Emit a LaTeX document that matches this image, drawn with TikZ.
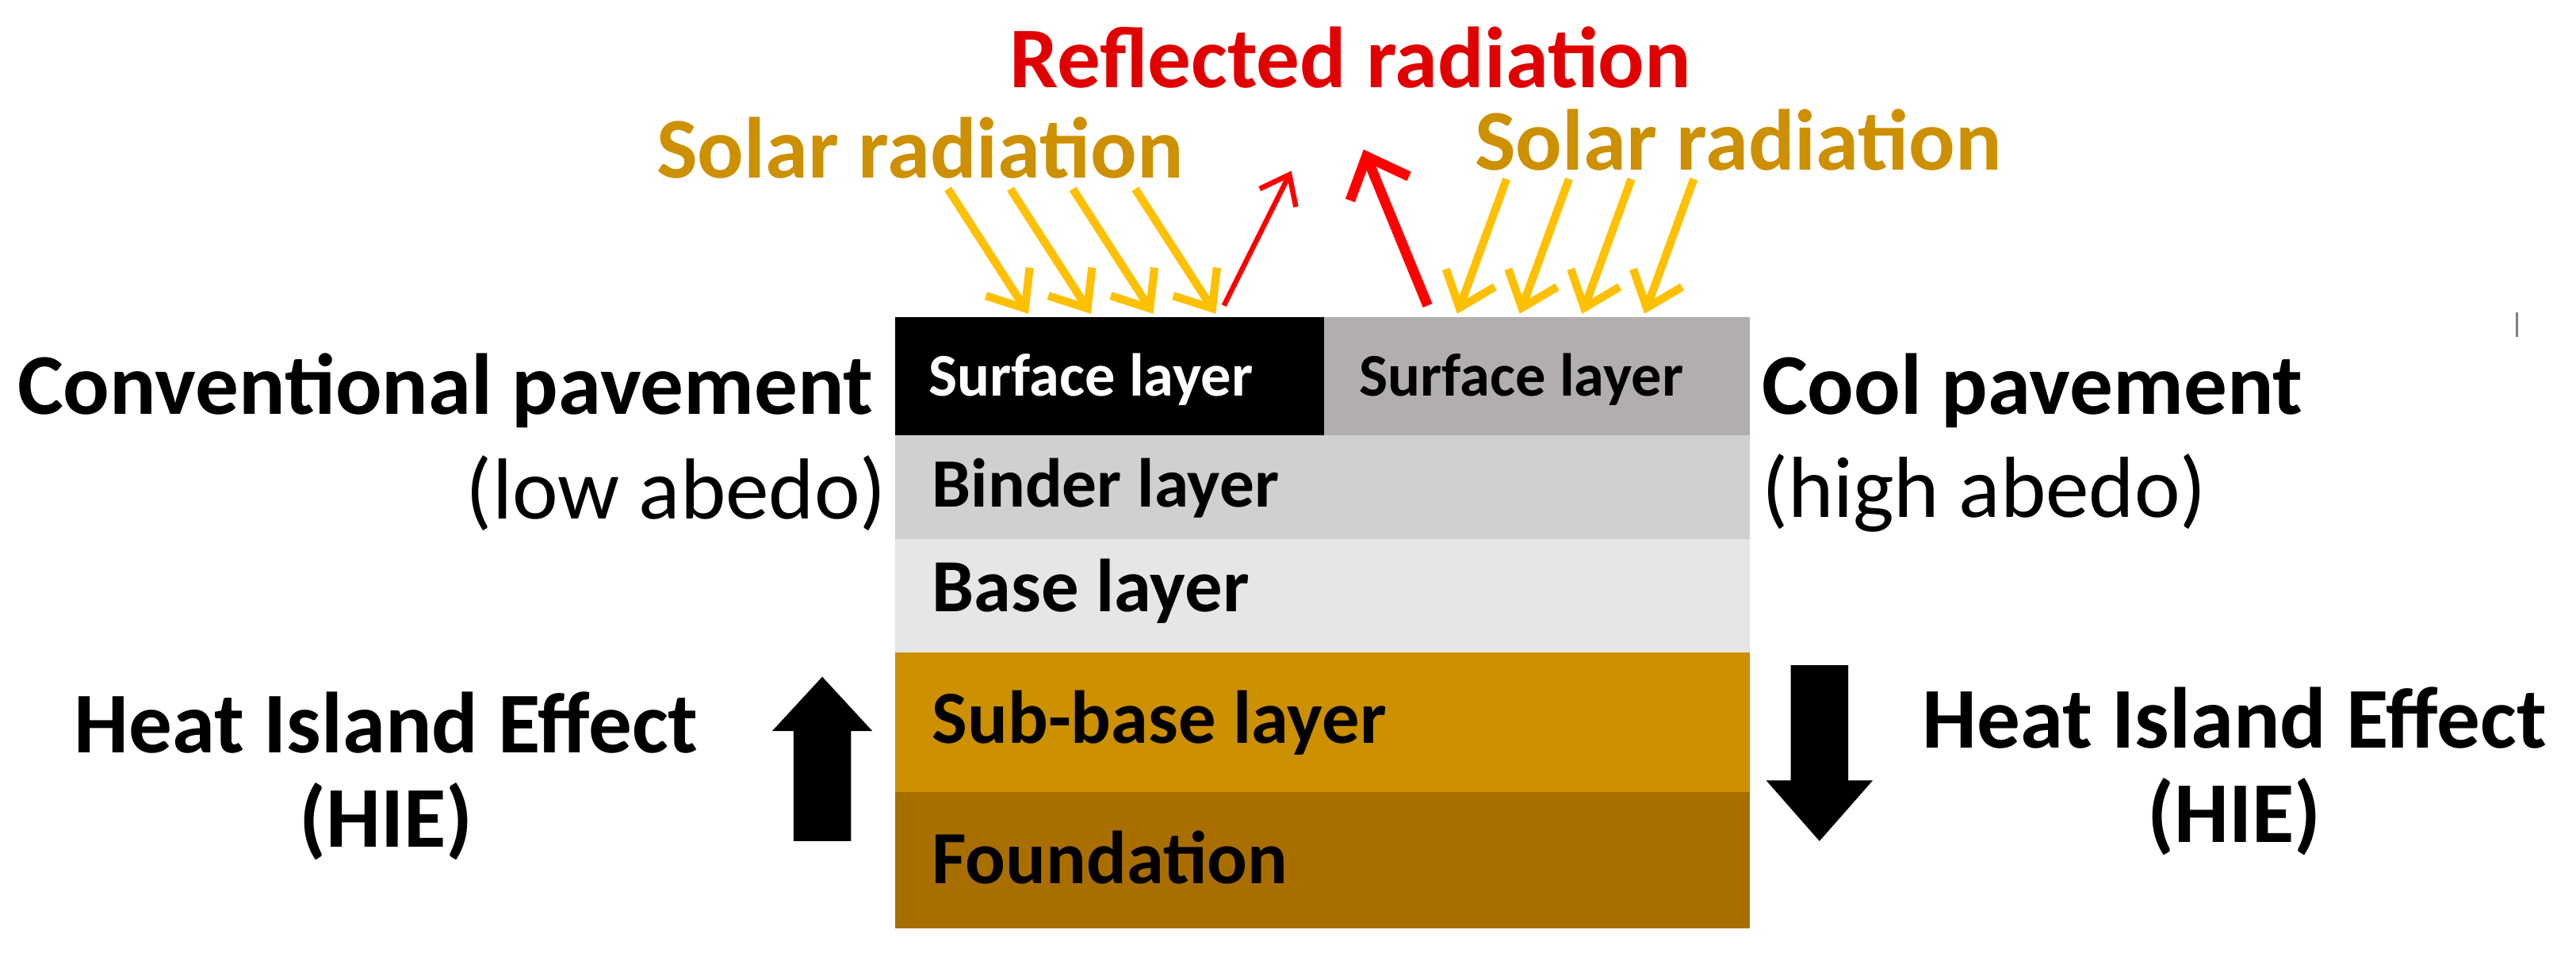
\documentclass[tikz,border=0pt]{standalone}
\usepackage{fontspec}
\setmainfont{Carlito}
\usetikzlibrary{arrows.meta}
\definecolor{gold}{HTML}{CC9000}
\definecolor{found}{HTML}{A86E00}
\definecolor{sunyel}{HTML}{FFC000}
\definecolor{redR}{HTML}{E00000}
\begin{document}
\begin{tikzpicture}[x=0.02cm,y=-0.02cm,
  big/.style={font=\fontsize{30}{36}\selectfont\bfseries, inner sep=0},
  reg/.style={font=\fontsize{30}{36}\selectfont, inner sep=0},
  lay/.style={font=\fontsize{26}{30}\selectfont\bfseries, inner sep=0, anchor=west},
  sm/.style={font=\fontsize{21}{25}\selectfont\bfseries, inner sep=0, anchor=west},
  sun/.style={draw=sunyel, line width=2.8pt, -{Straight Barb[length=11pt,width=18pt,line width=2.8pt]}},
  refl/.style={draw=red, -{Straight Barb[length=9pt,width=14pt]}}]
\useasboundingbox (0,0) rectangle (1568,589);
% layers
\fill[black] (545,193) rectangle (806,265);
\fill[fill={rgb,255:red,178;green,174;blue,174}] (806,193) rectangle (1065,265);
\fill[fill={rgb,255:red,208;green,208;blue,208}] (545,265) rectangle (1065,328);
\fill[fill={rgb,255:red,230;green,230;blue,230}] (545,328) rectangle (1065,397);
\fill[gold] (545,397) rectangle (1065,482);
\fill[found] (545,482) rectangle (1065,565);
\node[sm, text=white] (s1) at (565,231) {Surface layer};
\node[sm] (s2) at (827,231) {Surface layer};
\node[lay, font=\fontsize{24}{28}\selectfont\bfseries] (bi) at (567,297) {Binder layer};
\node[lay] (ba) at (567,360) {Base layer};
\node[lay] (sb) at (567,440) {Sub-base layer};
\node[lay] (fo) at (567,522) {Foundation};
% side labels
\node[big, anchor=east] (cp) at (532,238) {Conventional pavement};
\node[reg, anchor=east] (la) at (540,300) {(low abedo)};
\node[big, anchor=west] (cool) at (1072,238) {Cool pavement};
\node[reg, anchor=west] (ha) at (1072,300) {(high abedo)};
\node[big] (h1) at (235,440) {Heat Island Effect};
\node[big] (h1b) at (235,500) {(HIE)};
\node[big] (h2) at (1360,437) {Heat Island Effect};
\node[big] (h2b) at (1360,497) {(HIE)};
% big arrows
\fill[black] (483,512) -- (518,512) -- (518,445) -- (531,445) -- (500.5,412) -- (470,445) -- (483,445) -- cycle;
\fill[black] (1090,405) -- (1125,405) -- (1125,475) -- (1140,475) -- (1107.5,512) -- (1075,475) -- (1090,475) -- cycle;
% titles
\node[big, text=redR] (rr) at (822,35) {Reflected radiation};
\node[big, text=gold] (sl) at (560,90) {Solar radiation};
\node[big, text=gold] (sr) at (1058,85) {Solar radiation};
% solar arrows
\foreach \i in {0,1,2,3}{
  \coordinate (la\i) at (577+38*\i,115);
  \coordinate (lb\i) at (626+38*\i,191);
  \draw[sun] (la\i) -- (lb\i);
  \coordinate (ra\i) at (917+38*\i,109);
  \coordinate (rb\i) at (887+38*\i,191);
  \draw[sun] (ra\i) -- (rb\i);
}
\coordinate (r1a) at (745,186); \coordinate (r1b) at (786,104);
\draw[refl, line width=1.8pt] (r1a) -- (r1b);
\coordinate (r2a) at (869,186); \coordinate (r2b) at (830,91);
\draw[draw=red, line width=3.5pt, -{Straight Barb[length=12pt,width=22pt,line width=3.5pt]}] (r2a) -- (r2b);
\draw[gray, line width=1pt] (1532,190) -- (1532,205);
\end{tikzpicture}
\end{document}
